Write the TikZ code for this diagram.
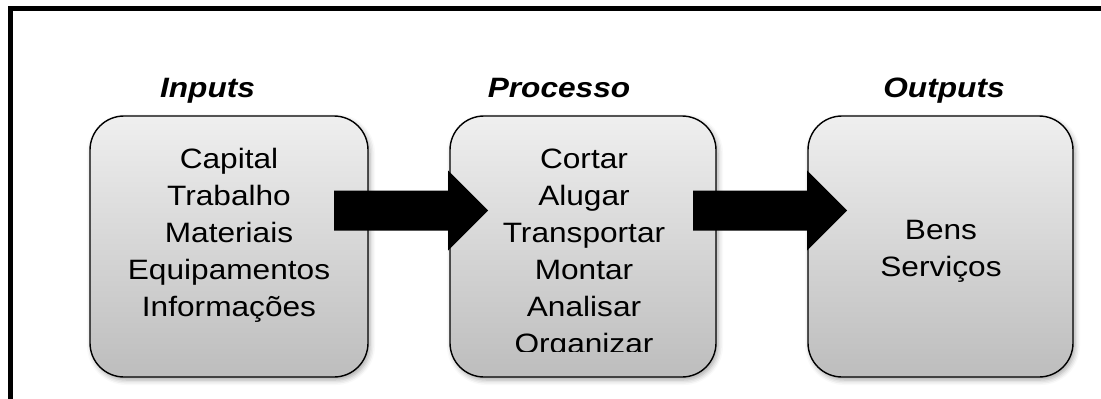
\documentclass[tikz,border=0pt]{standalone}
\usepackage{fontspec}
\setmainfont[FakeStretch=1.13]{Liberation Sans}
\usetikzlibrary{shadows.blur,calc}
\definecolor{boxtop}{HTML}{EFEFEF}
\definecolor{boxbot}{HTML}{BDBDBD}
% block arrow: shaft from #1 to the head, tip at #2
\newcommand\blockarrow[2]{%
  \fill[black] ($(#1)+(0,-20)$) -- ($(#2)+(-40,-20)$) -- ($(#2)+(-40,-40)$)
    -- (#2) -- ($(#2)+(-40,40)$) -- ($(#2)+(-40,20)$) -- ($(#1)+(0,20)$) -- cycle;}
\begin{document}
\begin{tikzpicture}[x=1pt,y=-1pt,
  stage/.style={draw=black, line width=1.4pt, rounded corners=34pt,
    top color=boxtop, bottom color=boxbot, minimum height=261pt, inner sep=0pt,
    blur shadow={shadow xshift=2pt, shadow yshift=-3pt, shadow blur radius=5pt, shadow opacity=35}},
  title/.style={font=\fontsize{28pt}{34pt}\selectfont\bfseries\itshape, anchor=base, inner sep=0pt},
  items/.style={font=\fontsize{28pt}{37pt}\selectfont, align=center, anchor=base, inner sep=0pt}]
\useasboundingbox (0,0) rectangle (1101,399);

% stages
\node[stage, minimum width=278pt] (in)   at (229,246.5) {};
\node[stage, minimum width=266pt] (proc) at (583,246.5) {};
\node[stage, minimum width=265pt] (outp) at (940.5,246.5) {};

% headings
\node[title] (tin)   at (207.5,97) {Inputs};
\node[title] (tproc) at (559,97)   {Processo};
\node[title] (tout)  at (944,97)   {Outputs};

% contents (anchored on the baseline of the last line)
\node[items] (lin) at (229,316) {Capital\\Trabalho\\Materiais\\Equipamentos\\Informações};
\begin{scope}
  \clip (proc.north west) rectangle (proc.east |- 0,351.5);
  \node[items] (lproc) at (584,353) {Cortar\\Alugar\\Transportar\\Montar\\Analisar\\Organizar};
\end{scope}
\node[items] (lout) at (941,276) {Bens\\Serviços};

% flow arrows
\coordinate (a1s) at (334,210.5);
\coordinate (a1t) at (488,210.5);
\coordinate (a2s) at (693,210.5);
\coordinate (a2t) at (847,210.5);
\blockarrow{a1s}{a1t}
\blockarrow{a2s}{a2t}

% frame
\draw[line width=5pt] (10,399) -- (10,8.5) -- (1101,8.5);
\end{tikzpicture}
\end{document}
